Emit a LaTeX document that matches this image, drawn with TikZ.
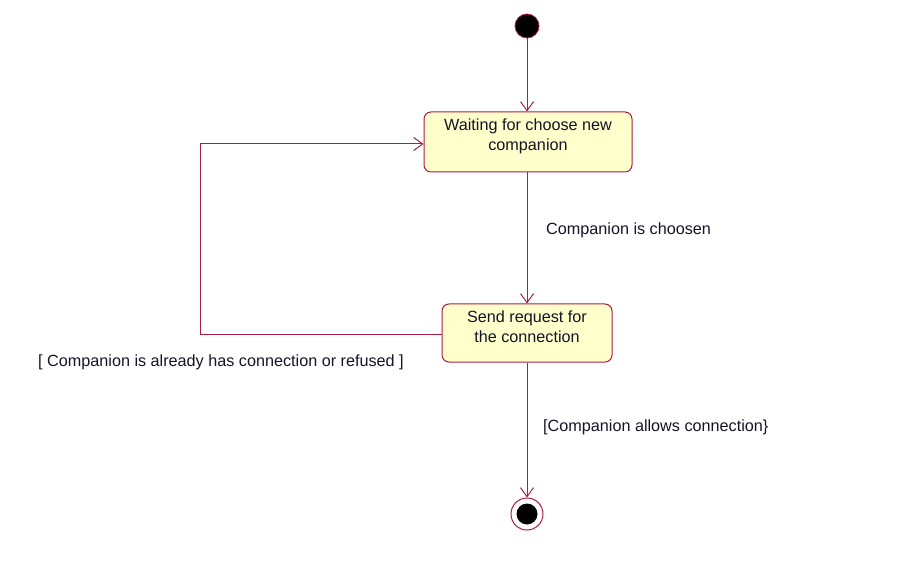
\documentclass[tikz,border=0pt]{standalone}
\usepackage{fontspec}
\setmainfont{Liberation Sans}
\usetikzlibrary{arrows.meta}
\definecolor{umlline}{RGB}{170,30,70}
\definecolor{umlfill}{RGB}{255,255,204}
\definecolor{umltext}{RGB}{20,20,40}
\newcommand{\lowpad}[1]{\rule[-#1]{0pt}{#1}}
\begin{document}
\begin{tikzpicture}[x=1pt,y=-1pt,
  state/.style={draw=umlline,fill=umlfill,rounded corners=7pt,line width=1pt,
    minimum width=#1,align=center,font=\fontsize{16.2}{20}\selectfont,text=umltext,inner sep=0pt},
  trans/.style={draw=umlline,line width=1pt,-{Straight Barb[length=9pt,width=13pt,line width=1pt]}},
  lbl/.style={font=\fontsize{16.2}{20}\selectfont,text=umltext,inner sep=0pt}]
\useasboundingbox (0,0) rectangle (919,572);
\node[circle,fill=black,draw=umlline,line width=0.8pt,minimum size=24pt,inner sep=0pt] (start) at (527,26) {};
\node[state=208pt,minimum height=60pt] (wait) at (528,142) {Waiting for choose new\\companion\lowpad{14pt}};
\node[state=170pt,minimum height=58pt] (send) at (527,333) {Send request for\\the connection\lowpad{12pt}};
\node[circle,draw=umlline,line width=1pt,fill=white,minimum size=32pt,inner sep=0pt] (endo) at (527,514) {};
\node[circle,fill=black,minimum size=21pt,inner sep=0pt] (endi) at (527,514) {};
\coordinate (c1) at (200,334);
\coordinate (c2) at (200,144);
\draw[trans] (start) -- (start |- wait.north);
\draw[trans] (wait.south -| start) -- (send.north -| start);
\draw[trans] (send.south -| start) -- (endo.north);
\draw[trans] (send.west |- c1) -- (c1) -- (c2) -- (wait.west |- c2);
\node[lbl,anchor=west] (l1) at (546,230) {Companion is choosen};
\node[lbl,anchor=west] (l2) at (38,362) {[ Companion is already has connection or refused ]};
\node[lbl,anchor=west] (l3) at (543,427) {[Companion allows connection\}};
\end{tikzpicture}
\end{document}
